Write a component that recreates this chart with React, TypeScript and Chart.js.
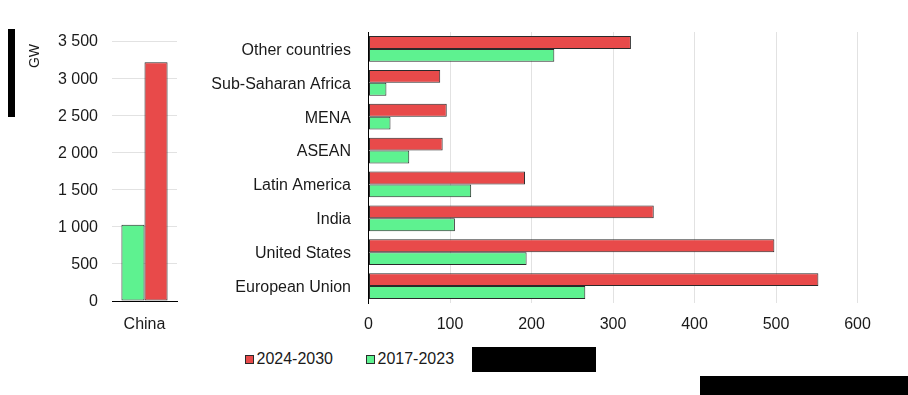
import React, { useEffect, useRef } from "react";
import { Chart, registerables } from "chart.js";

Chart.register(...registerables);

// ---- Data ----
const chinaCategories = ["China"];
const china2017_2023 = [1025];
const china2024_2030 = [3215];

const regionCategories = [
  "Other countries",
  "Sub-Saharan Africa",
  "MENA",
  "ASEAN",
  "Latin America",
  "India",
  "United States",
  "European Union",
];
const regions2024_2030 = [322, 88, 96, 91, 192, 350, 498, 552];
const regions2017_2023 = [228, 22, 27, 50, 126, 106, 194, 266];

const seriesLabels = ["2024-2030", "2017-2023"];
const unitLabel = "GW";

// ---- Styles ----
const RED = "#e84a4a";
const GREEN = "#5ef290";
const BORDER = "#2a2a2a";
const GRID = "#e2e2e2";
const TEXT = "#1a1a1a";
const FONT = "'Liberation Sans', Arial, Helvetica, sans-serif";

function formatThousands(v: number): string {
  if (v >= 1000) {
    const th = Math.floor(v / 1000);
    const rest = String(v % 1000).padStart(3, "0");
    return `${th} ${rest}`;
  }
  return String(v);
}

function ChinaChart() {
  const ref = useRef<HTMLCanvasElement | null>(null);
  useEffect(() => {
    if (!ref.current) return;
    const chart = new Chart(ref.current, {
      type: "bar",
      data: {
        labels: chinaCategories,
        datasets: [
          {
            label: seriesLabels[1],
            data: china2017_2023,
            backgroundColor: GREEN,
            borderColor: BORDER,
            borderWidth: 1,
            borderSkipped: false,
            categoryPercentage: 0.71,
            barPercentage: 1,
          },
          {
            label: seriesLabels[0],
            data: china2024_2030,
            backgroundColor: RED,
            borderColor: BORDER,
            borderWidth: 1,
            borderSkipped: false,
            categoryPercentage: 0.71,
            barPercentage: 1,
          },
        ],
      },
      options: {
        responsive: false,
        maintainAspectRatio: false,
        animation: false,
        layout: { padding: { top: 41, right: 13, left: 0, bottom: 0 } },
        plugins: { legend: { display: false }, tooltip: { enabled: false } },
        scales: {
          x: {
            grid: { display: false, drawTicks: false },
            border: { display: true, color: "#000", width: 1 },
            ticks: { color: TEXT, font: { family: FONT, size: 16 }, padding: 14 },
            afterFit: (s: any) => {
              s.height = 39;
            },
          },
          y: {
            min: 0,
            max: 3500,
            grid: { color: GRID, drawTicks: false },
            border: { display: false },
            ticks: {
              stepSize: 500,
              color: TEXT,
              font: { family: FONT, size: 16 },
              padding: 14,
              labelOffset: 1,
              callback: (v: any) => formatThousands(Number(v)),
            },
            afterFit: (s: any) => {
              s.width = 112;
            },
          },
        },
      },
    });
    return () => chart.destroy();
  }, []);
  return (
    <canvas
      ref={ref}
      width={190}
      height={340}
      style={{ position: "absolute", left: 0, top: 0, width: 190, height: 340 }}
    />
  );
}

function RegionsChart() {
  const ref = useRef<HTMLCanvasElement | null>(null);
  useEffect(() => {
    if (!ref.current) return;
    const chart = new Chart(ref.current, {
      type: "bar",
      data: {
        labels: regionCategories,
        datasets: [
          {
            label: seriesLabels[0],
            data: regions2024_2030,
            backgroundColor: RED,
            borderColor: BORDER,
            borderWidth: 1,
            borderSkipped: false,
            categoryPercentage: 0.76,
            barPercentage: 1,
          },
          {
            label: seriesLabels[1],
            data: regions2017_2023,
            backgroundColor: GREEN,
            borderColor: BORDER,
            borderWidth: 1,
            borderSkipped: false,
            categoryPercentage: 0.76,
            barPercentage: 1,
          },
        ],
      },
      options: {
        indexAxis: "y",
        responsive: false,
        maintainAspectRatio: false,
        animation: false,
        layout: { padding: { top: 32, right: 32.5, left: 0, bottom: 0 } },
        plugins: { legend: { display: false }, tooltip: { enabled: false } },
        scales: {
          x: {
            min: 0,
            max: 600,
            grid: { color: GRID, drawTicks: false },
            border: { display: false },
            ticks: {
              stepSize: 100,
              color: TEXT,
              font: { family: FONT, size: 16 },
              padding: 12,
            },
            afterFit: (s: any) => {
              s.height = 37;
            },
          },
          y: {
            grid: { display: false, drawTicks: false },
            border: { display: true, color: "#000", width: 1 },
            ticks: {
              color: TEXT,
              font: { family: FONT, size: 16 },
              padding: 17.5,
              labelOffset: 1.5,
            },
            afterFit: (s: any) => {
              s.width = 178.5;
            },
          },
        },
      },
    });
    return () => chart.destroy();
  }, []);
  return (
    <canvas
      ref={ref}
      width={700}
      height={340}
      style={{ position: "absolute", left: 190, top: 0, width: 700, height: 340 }}
    />
  );
}

function LegendItem({ color, label }: { color: string; label: string }) {
  return (
    <div style={{ display: "flex", alignItems: "center" }}>
      <div
        style={{
          width: 9,
          height: 9,
          boxSizing: "border-box",
          background: color,
          border: `1px solid ${BORDER}`,
          marginRight: 2.5,
        }}
      />
      <span style={{ fontSize: 16, color: TEXT, lineHeight: "20px" }}>{label}</span>
    </div>
  );
}

export default function App() {
  return (
    <div
      style={{
        position: "absolute",
        left: 0,
        top: 0,
        width: 908,
        height: 395,
        background: "#fff",
        overflow: "hidden",
        fontFamily: FONT,
      }}
    >
      <ChinaChart />
      <RegionsChart />
      <div
        style={{
          position: "absolute",
          left: 34,
          top: 56,
          transform: "translate(-50%, -50%) rotate(-90deg)",
          fontSize: 14,
          color: TEXT,
          whiteSpace: "nowrap",
        }}
      >
        {unitLabel}
      </div>
      <div
        style={{
          position: "absolute",
          left: 245,
          top: 349,
          height: 20,
          display: "flex",
          alignItems: "center",
          gap: 33,
        }}
      >
        <LegendItem color={RED} label={seriesLabels[0]} />
        <LegendItem color={GREEN} label={seriesLabels[1]} />
      </div>
      {/* redaction blocks present in the reference image */}
      <div style={{ position: "absolute", left: 8, top: 29, width: 7, height: 88, background: "#000" }} />
      <div style={{ position: "absolute", left: 472, top: 347, width: 124, height: 25, background: "#000" }} />
      <div style={{ position: "absolute", left: 700, top: 376, width: 208, height: 19, background: "#000" }} />
    </div>
  );
}
